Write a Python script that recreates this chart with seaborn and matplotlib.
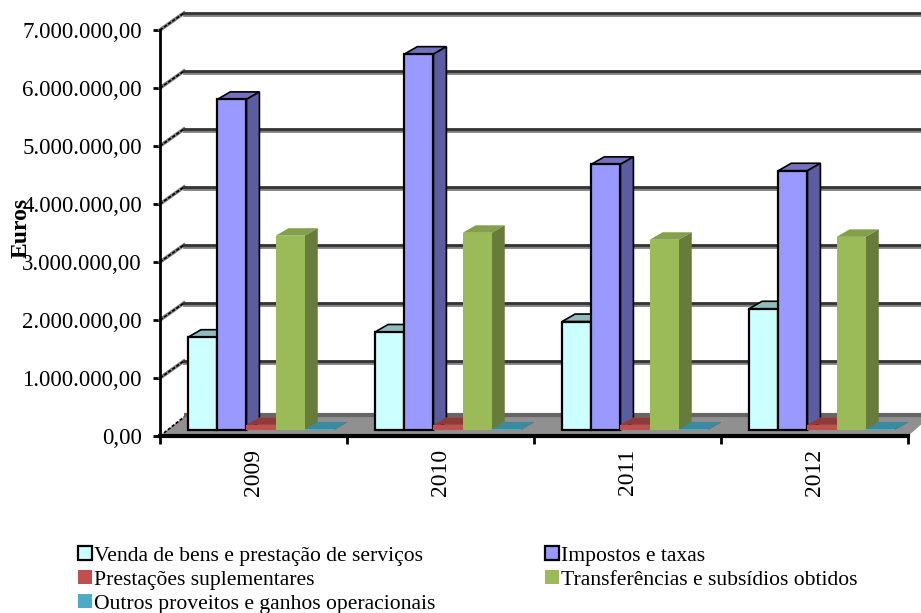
import pandas as pd
import matplotlib
matplotlib.use('Agg')
import matplotlib.pyplot as plt
import seaborn as sns
from matplotlib.patches import Polygon
from matplotlib.ticker import FuncFormatter

years = ['2009', '2010', '2011', '2012']
series = ['Venda de bens e prestação de serviços', 'Impostos e taxas', 'Prestações suplementares',
          'Transferências e subsídios obtidos', 'Outros proveitos e ganhos operacionais']

venda = [1600000, 1690000, 1870000, 2090000]
impostos = [5700000, 6480000, 4580000, 4470000]
prestacoes = [90000, 90000, 90000, 90000]
transferencias = [3350000, 3400000, 3280000, 3330000]
outros = [10000, 10000, 10000, 10000]

front_colors = ['#CCFFFF', '#9999FF', '#C0504D', '#9BBB59', '#4BACC6']
top_colors = ['#8FBDBD', '#7272BF', '#8F3A38', '#84A04A', '#3A8BA0']
side_colors = ['#668080', '#5C5CA0', '#7A2F2D', '#677B3B', '#2F7086']
edge_colors = ['black', 'black', 'none', 'none', 'none']

df = pd.DataFrame({
    'year': years * 5,
    'serie': [s for s in series for _ in years],
    'value': venda + impostos + prestacoes + transferencias + outros,
})

plt.rcParams['font.family'] = ['Liberation Serif', 'DejaVu Serif']

fig = plt.figure(figsize=(9.21, 6.13), dpi=100)
ax = fig.add_axes([160 / 921, (613 - 436) / 613, 748 / 921, 406 / 613])

sns.barplot(data=df, x='year', y='value', hue='serie', order=years, hue_order=series,
            palette=front_colors, saturation=1, width=0.78, gap=0, legend=False, ax=ax, zorder=5)
ax.set_xlim(-0.5, 3.5)
ax.set_ylim(0, 7000000)

# sizes of the fake 3d effect, in data units
px_x = 4 / 748
px_y = 7000000 / 406
wall_x, wall_y = 24 * px_x, 17 * px_y
depth_x, depth_y = 13 * px_x, 7.5 * px_y
shift_x, shift_y = 7.5 * px_x, 6 * px_y

# floor
floor_y = 19 * px_y
right_x = 3.5 + 13 * px_x
ax.add_patch(Polygon([(-0.5, 0), (-0.5 + wall_x, floor_y), (right_x + 0.1, floor_y), (right_x, floor_y * 0.6), (3.5, 0)],
                     closed=True, fc='#909090', ec='none', zorder=1, clip_on=False))
ax.plot([-0.5 + wall_x, right_x + 0.1], [floor_y + 2 * px_y] * 2, color='#666666', lw=3, zorder=1.5,
        clip_on=False, solid_capstyle='butt')

# back wall grid
for v in range(1000000, 8000000, 1000000):
    ax.plot([-0.5 + wall_x, right_x + 0.1], [v + wall_y - 1.5 * px_y] * 2, color='#808080', lw=2, zorder=2, clip_on=False)
    ax.plot([-0.5 + wall_x, right_x + 0.1], [v + wall_y] * 2, color='#333333', lw=2, zorder=2.1, clip_on=False)
    ax.plot([-0.5, -0.5 + wall_x], [v, v + wall_y], color='#808080', lw=2.6, zorder=2, clip_on=False)
    ax.plot([-0.5, -0.5 + wall_x], [v, v + wall_y], color='black', lw=1.2, ls=(0, (2, 1)), zorder=2.1, clip_on=False)
ax.plot([-0.5, -0.5 + wall_x], [0, floor_y], color='black', lw=1.2, ls=(0, (2, 1)), zorder=2.1, clip_on=False)

# push bars onto the floor and add top and side faces
for i, container in enumerate(ax.containers):
    for bar in container:
        x0 = bar.get_x() + shift_x
        w = bar.get_width()
        h = bar.get_height()
        y0 = shift_y
        z = 5 + i
        bar.set_x(x0)
        bar.set_y(y0)
        bar.set_clip_on(False)
        bar.set_zorder(z + 0.3)
        bar.set_edgecolor(edge_colors[i])
        bar.set_linewidth(1.6 if edge_colors[i] != 'none' else 0)
        top = y0 + h
        ax.add_patch(Polygon([(x0, top), (x0 + depth_x, top + depth_y), (x0 + w + depth_x, top + depth_y), (x0 + w, top)],
                             closed=True, fc=top_colors[i], ec=edge_colors[i], lw=1.2 if edge_colors[i] != 'none' else 0,
                             zorder=z, clip_on=False))
        ax.add_patch(Polygon([(x0 + w, y0), (x0 + w + depth_x, y0 + depth_y), (x0 + w + depth_x, top + depth_y), (x0 + w, top)],
                             closed=True, fc=side_colors[i], ec=edge_colors[i], lw=1.2 if edge_colors[i] != 'none' else 0,
                             zorder=z, clip_on=False))

sns.despine(ax=ax)
ax.spines['left'].set_linewidth(2)
ax.spines['bottom'].set_linewidth(3)
ax.spines['left'].set_zorder(20)
ax.spines['bottom'].set_zorder(20)

ax.yaxis.set_major_formatter(FuncFormatter(lambda v, _: f'{v:,.2f}'.replace(',', ' ').replace('.', ',').replace(' ', '.')))
ax.set_yticks(range(0, 8000000, 1000000))
ax.tick_params(axis='y', length=5, width=2, pad=8, labelsize=16.5, colors='black')
ax.set_xticks(range(4))
ax.set_xticklabels(years, rotation=90)
ax.tick_params(axis='x', length=0, pad=9, labelsize=17)
ax.set_xticks([-0.5, 0.5, 1.5, 2.5, 3.5], minor=True)
ax.tick_params(axis='x', which='minor', length=6, width=2)

ax.set_xlabel('')
ax.set_ylabel('Euros', fontweight='bold', fontsize=17)
ax.yaxis.set_label_coords(-0.172, 0.512)

# matplotlib fills legends column by column, the chart reads row by row
order = [0, 2, 4, 1, 3]
fig.legend([ax.containers[i][0] for i in order], [series[i] for i in order], ncols=2, frameon=False,
           loc='upper left', bbox_to_anchor=(63 / 921, 1 - 531 / 613), fontsize=15.6,
           handlelength=0.62, handleheight=0.62, handletextpad=0.13, columnspacing=5.05,
           labelspacing=0.2, borderpad=0.2)

fig.savefig('out.png', dpi=100)
